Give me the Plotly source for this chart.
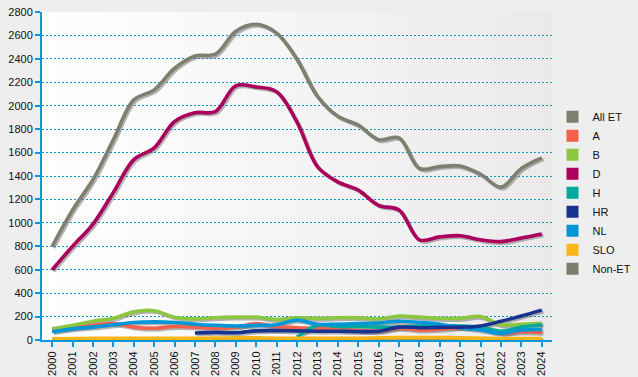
import plotly.graph_objects as go

years = [2000, 2001, 2002, 2003, 2004, 2005, 2006, 2007, 2008, 2009, 2010, 2011, 2012,
         2013, 2014, 2015, 2016, 2017, 2018, 2019, 2020, 2021, 2022, 2023, 2024]

all_et = [800, 1110, 1370, 1710, 2050, 2135, 2320, 2425, 2440, 2635, 2695, 2620, 2395,
          2080, 1910, 1835, 1710, 1725, 1465, 1480, 1485, 1415, 1305, 1465, 1555]
a_vals = [80, 105, 125, 140, 110, 100, 115, 110, 100, 110, 140, 115, 105,
          95, 95, 80, 75, 100, 85, 90, 105, 110, 60, 70, 65]
b_vals = [95, 125, 160, 185, 240, 250, 195, 180, 190, 195, 195, 175, 190,
          185, 190, 190, 180, 205, 195, 185, 185, 200, 130, 135, 142]
d_vals = [600, 800, 990, 1260, 1540, 1640, 1865, 1940, 1950, 2170, 2160, 2120, 1860,
          1480, 1350, 1280, 1150, 1110, 855, 880, 890, 855, 840, 870, 905]
h_vals = [None, None, None, None, None, None, None, None, None, None, None, None, 25,
          125, 115, 115, 110, 110, 120, 120, 120, 110, 75, 110, 128]
hr_vals = [None, None, None, None, None, None, None, 60, 65, 62, 78, 80, 78,
           75, 75, 72, 75, 110, 105, 108, 110, 120, 160, 205, 255]
nl_vals = [70, 95, 110, 130, 150, 155, 150, 135, 125, 120, 125, 130, 170,
           135, 135, 140, 145, 160, 150, 135, 105, 85, 57, 85, 90]
slo_vals = [10, 12, 14, 15, 15, 15, 15, 15, 16, 18, 18, 15, 15,
            15, 15, 15, 18, 20, 20, 20, 18, 15, 12, 12, 12]
non_et = [3, 3, 3, 3, 3, 3, 3, 3, 3, 3, 3, 3, 3,
          3, 3, 3, 3, 3, 3, 3, 3, 3, 3, 3, 3]

series_names = ["All ET", "A", "B", "D", "H", "HR", "NL", "SLO", "Non-ET"]
series_values = [all_et, a_vals, b_vals, d_vals, h_vals, hr_vals, nl_vals, slo_vals, non_et]
series_colors = ["#7f7f6f", "#f4604a", "#8dc63f", "#ab005c", "#00a99d",
                 "#17338f", "#0096d8", "#fbb516", "#7d7d6d"]
draw_order = [8, 0, 3, 1, 2, 4, 6, 5, 7]

y_ticks = list(range(0, 2801, 200))

W, H = 638, 377
ML, MR, MT, MB = 42, 86, 12, 37
plot_w = W - ML - MR
plot_h = H - MT - MB
x_range = [1999.5, 2024.5]
y_range = [0, 2800]
shadow_px = 1.6
dx = shadow_px * (x_range[1] - x_range[0]) / plot_w
dy = shadow_px * (y_range[1] - y_range[0]) / plot_h

fig = go.Figure()

# shadows
for i in draw_order:
    fig.add_trace(go.Scatter(
        x=years, y=series_values[i], mode="lines",
        line=dict(color="rgba(90,90,90,0.45)", width=3.6, shape="spline", smoothing=1.0),
        xaxis="x2", yaxis="y2", showlegend=False, hoverinfo="skip"))

# lines
for i in draw_order:
    fig.add_trace(go.Scatter(
        x=years, y=series_values[i], mode="lines", name=series_names[i],
        line=dict(color=series_colors[i], width=3.6, shape="spline", smoothing=1.0),
        xaxis="x3", yaxis="y3", showlegend=False))

# legend entries (square swatches)
for name, col in zip(series_names, series_colors):
    fig.add_trace(go.Scatter(
        x=[None], y=[None], mode="markers", name=name,
        marker=dict(symbol="square", size=8, color=col),
        showlegend=True))

# background gradient (white -> light gray)
n = 40
for k in range(n):
    t = k / (n - 1)
    g = int(round(255 - t * (255 - 234)))
    fig.add_shape(type="rect", xref="x domain", yref="y domain",
                  x0=k / n, x1=(k + 1) / n + 0.002, y0=0, y1=1,
                  fillcolor=f"rgb({g},{g},{g})", line=dict(width=0), layer="below")

blue = "#0a98d8"
font = dict(family="Liberation Sans, Arial, sans-serif", size=11, color="#111111")

fig.update_layout(
    width=W, height=H,
    margin=dict(l=ML, r=MR, t=MT, b=MB, autoexpand=False),
    paper_bgcolor="#eeeeee",
    plot_bgcolor="rgba(0,0,0,0)",
    font=font,
    showlegend=True,
    legend=dict(xref="container", yref="container", x=0.866, y=0.7285,
                xanchor="left", yanchor="top", bgcolor="rgba(0,0,0,0)",
                font=dict(family="Liberation Sans, Arial, sans-serif", size=11, color="#111111"),
                itemsizing="constant", tracegroupgap=0),
    xaxis=dict(range=x_range, tickmode="array", tickvals=years,
               ticktext=[str(y) for y in years], tickangle=-90, automargin=False,
               showgrid=False, zeroline=False, showline=True, linecolor=blue, linewidth=2,
               ticks="outside", ticklen=5, tickwidth=1.5, tickcolor=blue,
               tickfont=font),
    yaxis=dict(range=y_range, tickmode="array", tickvals=y_ticks, automargin=False,
               showgrid=True, gridcolor=blue, gridwidth=1, griddash="2px,2px",
               zeroline=False, showline=True, linecolor=blue, linewidth=2,
               ticks="outside", ticklen=5, tickwidth=1.5, tickcolor=blue,
               tickfont=font),
    xaxis2=dict(range=[x_range[0] - dx, x_range[1] - dx], overlaying="x", visible=False),
    yaxis2=dict(range=[y_range[0] + dy, y_range[1] + dy], overlaying="y", visible=False),
    xaxis3=dict(range=x_range, overlaying="x", visible=False),
    yaxis3=dict(range=y_range, overlaying="y", visible=False),
)

fig.write_html("out.html",
               config={"displayModeBar": False},
               post_script="document.body.style.margin='0';document.body.style.padding='0';"
                           "document.body.style.overflow='hidden';")
